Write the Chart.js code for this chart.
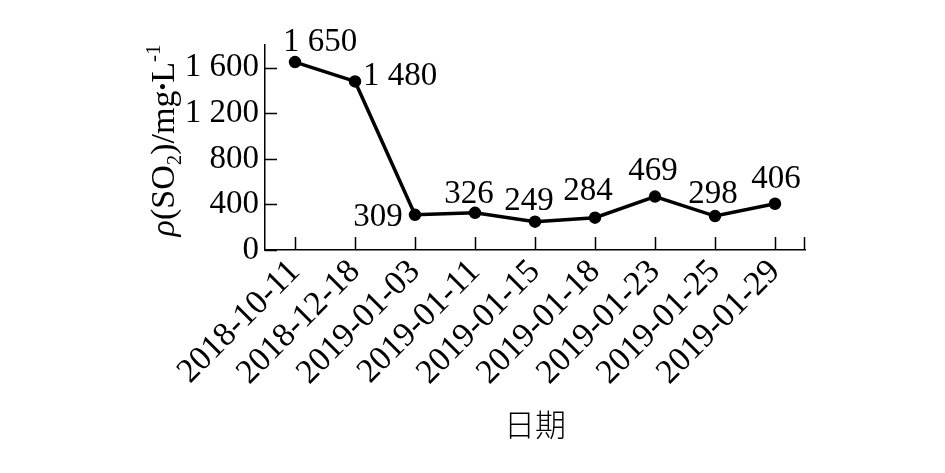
<!DOCTYPE html>
<html>
<head>
<meta charset="utf-8">
<script src="https://cdn.jsdelivr.net/npm/chart.js@4"></script>
<style>
  body { margin: 0; background: #fff; }
  #so2-chart { display: block; }
</style>
</head>
<body>
<canvas id="so2-chart" width="945" height="473"></canvas>
<script>
// 日期
const dates = [
    "2018-10-11", "2018-12-18", "2019-01-03", "2019-01-11", "2019-01-15",
    "2019-01-18", "2019-01-23", "2019-01-25", "2019-01-29"
];
// SO2 質量濃度
const so2Values = [1650, 1480, 309, 326, 249, 284, 469, 298, 406];
// 縦軸目盛
const yTicks = [0, 400, 800, 1200, 1600];
const yMax = 1800;

const serif = "'Liberation Serif', 'Times New Roman', serif";

// "1 650" 形式
function fmt(v) {
    if (v < 1000) return String(v);
    return Math.floor(v / 1000) + " " + String(v % 1000).padStart(3, "0");
}

// 数値ラベルの置き方 (点からのずれ)
const labelOffsets = [
    [25, -20], [45, -5], [-37, 3], [-6, -19], [-6, -20],
    [-7, -26], [-2, -25], [-2, -22], [1, -24]
];

const valueLabelPlugin = {
    id: "valueLabels",
    afterDatasetsDraw(chart) {
        const { ctx } = chart;
        const meta = chart.getDatasetMeta(0);
        ctx.save();
        ctx.fillStyle = "#000";
        ctx.font = "33px " + serif;
        ctx.textAlign = "center";
        ctx.textBaseline = "middle";
        meta.data.forEach((pt, i) => {
            const off = labelOffsets[i];
            ctx.fillText(fmt(so2Values[i]), pt.x + off[0], pt.y + off[1]);
        });
        ctx.restore();
    }
};

// 内向きの目盛線
const innerTicksPlugin = {
    id: "innerTicks",
    afterDraw(chart) {
        const { ctx, chartArea, scales } = chart;
        ctx.save();
        ctx.strokeStyle = "#000";
        ctx.lineWidth = 1.5;
        ctx.beginPath();
        scales.y.ticks.forEach(t => {
            const y = Math.round(scales.y.getPixelForValue(t.value)) + 0.5;
            ctx.moveTo(chartArea.left, y);
            ctx.lineTo(chartArea.left + 12, y);
        });
        scales.x.ticks.forEach((t, i) => {
            const x = Math.round(scales.x.getPixelForTick(i)) + 0.5;
            ctx.moveTo(x, chartArea.bottom);
            ctx.lineTo(x, chartArea.bottom - 13);
        });
        const xr = Math.round(scales.x.right) - 0.5;
        ctx.moveTo(xr, chartArea.bottom);
        ctx.lineTo(xr, chartArea.bottom - 13);
        ctx.stroke();
        ctx.restore();
    }
};

// 縦軸タイトル ρ(SO2)/mg·L-1
const yTitlePlugin = {
    id: "yTitle",
    afterDraw(chart) {
        const { ctx, chartArea } = chart;
        const parts = [
            { t: "ρ", f: "italic 34px " + serif, dy: 0 },
            { t: "(SO", f: "34px " + serif, dy: 0 },
            { t: "2", f: "21px " + serif, dy: 7 },
            { t: ")/mg", f: "34px " + serif, dy: 0 },
            { t: "•", f: "22px " + serif, dy: -4 },
            { t: "L", f: "34px " + serif, dy: 0 },
            { t: "-1", f: "21px " + serif, dy: -14 }
        ];
        ctx.save();
        let total = 0;
        parts.forEach(p => {
            ctx.font = p.f;
            p.w = ctx.measureText(p.t).width;
            total += p.w;
        });
        const cy = (chartArea.top + chartArea.bottom) / 2 - 7;
        ctx.translate(174, cy);
        ctx.rotate(-Math.PI / 2);
        ctx.fillStyle = "#000";
        ctx.textBaseline = "alphabetic";
        ctx.textAlign = "left";
        let x = -total / 2;
        parts.forEach(p => {
            ctx.font = p.f;
            ctx.fillText(p.t, x, p.dy);
            x += p.w;
        });
        ctx.restore();
    }
};

const chart = new Chart(document.getElementById("so2-chart"), {
    type: "line",
    data: {
        labels: dates,
        datasets: [{
            data: so2Values,
            borderColor: "#000",
            borderWidth: 3.5,
            pointRadius: 4.5,
            pointBackgroundColor: "#000",
            pointBorderColor: "#000",
            tension: 0
        }]
    },
    options: {
        responsive: false,
        animation: false,
        layout: {
            padding: { top: 45, right: 140, left: 0, bottom: 0 }
        },
        scales: {
            x: {
                offset: true,
                grid: { display: true, drawOnChartArea: false, drawTicks: false },
                border: { display: true, color: "#000", width: 1.5 },
                ticks: {
                    color: "#000",
                    font: { family: serif, size: 34 },
                    maxRotation: 45,
                    minRotation: 45,
                    padding: 2,
                    autoSkip: false
                },
                title: {
                    display: true,
                    text: "日期",
                    color: "#000",
                    font: { family: "'Noto Sans CJK SC', sans-serif", size: 31, weight: 300 },
                    padding: { top: 0, bottom: 30 }
                },
                afterFit(scale) {
                    scale.height = 223;
                }
            },
            y: {
                min: 0,
                max: yMax,
                grid: { display: true, drawOnChartArea: false, drawTicks: false },
                border: { display: true, color: "#000", width: 1.5 },
                ticks: {
                    stepSize: 200,
                    color: "#000",
                    font: { family: serif, size: 33 },
                    padding: 6,
                    callback: v => yTicks.includes(v) ? fmt(v) : ""
                },
                afterFit(scale) {
                    scale.width = 265;
                }
            }
        },
        plugins: {
            legend: { display: false },
            tooltip: { enabled: false }
        }
    },
    plugins: [valueLabelPlugin, innerTicksPlugin, yTitlePlugin]
});
</script>
</body>
</html>
